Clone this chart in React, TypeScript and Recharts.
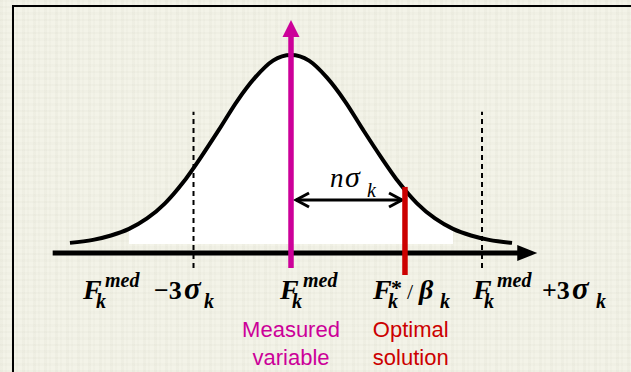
import React from 'react';
import { ComposedChart, Area, Line, XAxis, YAxis, ReferenceLine, ReferenceDot } from 'recharts';

// Bell curve: x in sigma units from the median, y = relative height
const curveX = [-3.07, -2.75, -2.5, -2.25, -2, -1.75, -1.5, -1.25, -1, -0.75, -0.5, -0.25, 0, 0.25, 0.5, 0.75, 1, 1.25, 1.5, 1.75, 2, 2.25, 2.5, 2.75, 3.07];
const curveY = [0.006, 0.022, 0.045, 0.08, 0.135, 0.215, 0.325, 0.46, 0.605, 0.755, 0.88, 0.97, 1.0, 0.97, 0.88, 0.755, 0.605, 0.46, 0.325, 0.215, 0.135, 0.08, 0.045, 0.022, 0.006];
// white fill only spans this part of the curve
const fillRange = [-2.25, 2.25];

// horizontal axis arrow
const axisX = [-3.31, 3.42];
const axisLevel = -0.048;

// markers
const medianX = 0;
const lowerX = -1.354;
const upperX = 2.653;
const optimalX = 1.583;
const medianSpan = [-0.127, 1.185];
const optimalSpan = [-0.164, 0.302];
const dashedSpan = [-0.127, 0.7];
const distanceLevel = 0.233;
const distanceX = [0.056, 1.556];

// label anchors (data units)
const labelX = [-2.889, -0.153, 1.139, 2.528];
const labelLevel = -0.291;
const captionLevel = -0.492;
const nSigmaAnchor = [0.542, 0.302];

// texts
const captionMeasured = ['Measured', 'variable'];
const captionOptimal = ['Optimal', 'solution'];

const data = curveX.map((x, i) => ({ x, y: curveY[i] }));
const fillData = data.filter((d) => d.x >= fillRange[0] && d.x <= fillRange[1]);

const MAGENTA = '#CC0099';
const RED = '#CC0000';
const serif = "'Liberation Serif', 'Times New Roman', Times, serif";
const sans = "'Liberation Sans', Arial, Helvetica, sans-serif";
const BI = { fontFamily: serif, fontWeight: 700, fontStyle: 'italic' as const };
const B = { fontFamily: serif, fontWeight: 700 };

const AxisArrow = (p: any) => {
  const { x1, y1, x2 } = p;
  return (
    <g>
      <line x1={x1} y1={y1} x2={x2 - 14} y2={y1} stroke="#000" strokeWidth={5} />
      <polygon points={`${x2},${y1} ${x2 - 20},${y1 - 8} ${x2 - 20},${y1 + 8}`} fill="#000" />
    </g>
  );
};

const UpArrow = (p: any) => {
  const { x1, y1, y2 } = p;
  const top = Math.min(y1, y2);
  const bottom = Math.max(y1, y2);
  return (
    <g>
      <line x1={x1} y1={bottom} x2={x1} y2={top + 12} stroke={MAGENTA} strokeWidth={5.5} />
      <polygon points={`${x1},${top} ${x1 - 8.5},${top + 17} ${x1 + 8.5},${top + 17}`} fill={MAGENTA} />
    </g>
  );
};

const DoubleArrow = (p: any) => {
  const { x1, y1, x2 } = p;
  const a = Math.min(x1, x2);
  const b = Math.max(x1, x2);
  return (
    <g fill="none" stroke="#000" strokeWidth={3}>
      <line x1={a + 1} y1={y1} x2={b - 1} y2={y1} />
      <polyline points={`${a + 14},${y1 - 7} ${a + 1},${y1} ${a + 14},${y1 + 7}`} />
      <polyline points={`${b - 14},${y1 - 7} ${b - 1},${y1} ${b - 14},${y1 + 7}`} />
    </g>
  );
};

const LowerLabel = ({ cx, cy }: any) => (
  <text fill="#000">
    <tspan x={cx} y={cy} fontSize={28} style={BI}>F</tspan>
    <tspan x={cx + 22} y={cy - 12} fontSize={20} style={BI}>med</tspan>
    <tspan x={cx + 13} y={cy + 9} fontSize={20} style={BI}>k</tspan>
    <tspan x={cx + 71} y={cy} fontSize={26} style={B}>−3</tspan>
    <tspan x={cx + 101} y={cy} fontSize={31} style={BI}>σ</tspan>
    <tspan x={cx + 121} y={cy + 9} fontSize={20} style={BI}>k</tspan>
  </text>
);

const MedianLabel = ({ cx, cy }: any) => (
  <text fill="#000">
    <tspan x={cx} y={cy} fontSize={28} style={BI}>F</tspan>
    <tspan x={cx + 23} y={cy - 12} fontSize={20} style={BI}>med</tspan>
    <tspan x={cx + 12} y={cy + 9} fontSize={20} style={BI}>k</tspan>
  </text>
);

const OptimalLabel = ({ cx, cy }: any) => (
  <text fill="#000">
    <tspan x={cx} y={cy} fontSize={28} style={BI}>F</tspan>
    <tspan x={cx + 18} y={cy - 4} fontSize={22} style={B}>*</tspan>
    <tspan x={cx + 15} y={cy + 9} fontSize={20} style={BI}>k</tspan>
    <tspan x={cx + 34} y={cy} fontSize={22} style={{ fontFamily: serif }}>/</tspan>
    <tspan x={cx + 46} y={cy} fontSize={28} style={BI}>β</tspan>
    <tspan x={cx + 67} y={cy + 9} fontSize={20} style={BI}>k</tspan>
  </text>
);

const UpperLabel = ({ cx, cy }: any) => (
  <text fill="#000">
    <tspan x={cx} y={cy} fontSize={28} style={BI}>F</tspan>
    <tspan x={cx + 24} y={cy - 12} fontSize={20} style={BI}>med</tspan>
    <tspan x={cx + 11} y={cy + 9} fontSize={20} style={BI}>k</tspan>
    <tspan x={cx + 69} y={cy} fontSize={26} style={B}>+3</tspan>
    <tspan x={cx + 99} y={cy} fontSize={31} style={BI}>σ</tspan>
    <tspan x={cx + 123} y={cy + 9} fontSize={20} style={BI}>k</tspan>
  </text>
);

const NSigma = ({ cx, cy }: any) => (
  <text fill="#000" style={{ fontFamily: serif, fontStyle: 'italic' }}>
    <tspan x={cx} y={cy} fontSize={27}>n</tspan>
    <tspan x={cx + 15} y={cy} fontSize={30}>σ</tspan>
    <tspan x={cx + 37} y={cy + 10} fontSize={20}>k</tspan>
  </text>
);

const Caption = ({ cx, cy, lines, color }: any) => (
  <text fill={color} textAnchor="middle" style={{ fontFamily: sans }} fontSize={22}>
    <tspan x={cx} y={cy}>{lines[0]}</tspan>
    <tspan x={cx} y={cy + 28}>{lines[1]}</tspan>
  </text>
);

export default function App() {
  return (
    <div
      style={{
        position: 'absolute',
        left: 0,
        top: 0,
        width: 631,
        height: 372,
        overflow: 'hidden',
        backgroundColor: '#F3F3E8',
        backgroundImage:
          'repeating-linear-gradient(90deg, rgba(110,110,80,0.035) 0px, rgba(110,110,80,0.035) 3px, transparent 3px, transparent 5px, rgba(110,110,80,0.025) 5px, rgba(110,110,80,0.025) 7px, transparent 7px, transparent 11px), repeating-linear-gradient(0deg, rgba(110,110,80,0.03) 0px, rgba(110,110,80,0.03) 2px, transparent 2px, transparent 6px, rgba(110,110,80,0.025) 6px, rgba(110,110,80,0.025) 9px, transparent 9px, transparent 13px)',
      }}
    >
      <div
        style={{
          position: 'absolute',
          left: 12,
          top: 5,
          width: 700,
          height: 500,
          border: '2px solid #000',
          boxSizing: 'border-box',
        }}
      />
      <div style={{ position: 'absolute', left: 0, top: 0 }}>
        <ComposedChart
          width={631}
          height={372}
          data={data}
          margin={{ top: 17.2, right: 16, bottom: 14.6, left: 3 }}
        >
          <XAxis type="number" dataKey="x" domain={[-4, 4.5]} allowDataOverflow hide />
          <YAxis type="number" domain={[-0.6, 1.2]} allowDataOverflow hide />
          <Area
            data={fillData}
            dataKey="y"
            type="monotone"
            fill="#FFFFFF"
            fillOpacity={1}
            stroke="none"
            baseValue={0}
            isAnimationActive={false}
            dot={false}
            activeDot={false}
          />
          <ReferenceLine
            segment={[{ x: lowerX, y: dashedSpan[0] }, { x: lowerX, y: dashedSpan[1] }]}
            stroke="#000"
            strokeWidth={2}
            strokeDasharray="5 4"
          />
          <ReferenceLine
            segment={[{ x: upperX, y: dashedSpan[0] }, { x: upperX, y: dashedSpan[1] }]}
            stroke="#000"
            strokeWidth={2}
            strokeDasharray="5 4"
          />
          <Line
            data={data}
            dataKey="y"
            type="monotone"
            stroke="#000"
            strokeWidth={4}
            dot={false}
            activeDot={false}
            isAnimationActive={false}
          />
          <ReferenceLine
            segment={[{ x: axisX[0], y: axisLevel }, { x: axisX[1], y: axisLevel }]}
            shape={AxisArrow}
          />
          <ReferenceLine
            segment={[{ x: distanceX[0], y: distanceLevel }, { x: distanceX[1], y: distanceLevel }]}
            shape={DoubleArrow}
          />
          <ReferenceLine
            segment={[{ x: medianX, y: medianSpan[0] }, { x: medianX, y: medianSpan[1] }]}
            shape={UpArrow}
          />
          <ReferenceLine
            segment={[{ x: optimalX, y: optimalSpan[0] }, { x: optimalX, y: optimalSpan[1] }]}
            stroke={RED}
            strokeWidth={5.5}
          />
          <ReferenceDot x={nSigmaAnchor[0]} y={nSigmaAnchor[1]} r={0} ifOverflow="visible" shape={(p: any) => <NSigma cx={p.cx} cy={p.cy} />} />
          <ReferenceDot x={labelX[0]} y={labelLevel} r={0} ifOverflow="visible" shape={(p: any) => <LowerLabel cx={p.cx} cy={p.cy} />} />
          <ReferenceDot x={labelX[1]} y={labelLevel} r={0} ifOverflow="visible" shape={(p: any) => <MedianLabel cx={p.cx} cy={p.cy} />} />
          <ReferenceDot x={labelX[2]} y={labelLevel} r={0} ifOverflow="visible" shape={(p: any) => <OptimalLabel cx={p.cx} cy={p.cy} />} />
          <ReferenceDot x={labelX[3]} y={labelLevel} r={0} ifOverflow="visible" shape={(p: any) => <UpperLabel cx={p.cx} cy={p.cy} />} />
          <ReferenceDot x={medianX} y={captionLevel} r={0} ifOverflow="visible" shape={(p: any) => <Caption cx={p.cx} cy={p.cy} lines={captionMeasured} color={MAGENTA} />} />
          <ReferenceDot x={optimalX + 0.08} y={captionLevel} r={0} ifOverflow="visible" shape={(p: any) => <Caption cx={p.cx} cy={p.cy} lines={captionOptimal} color={RED} />} />
        </ComposedChart>
      </div>
    </div>
  );
}
